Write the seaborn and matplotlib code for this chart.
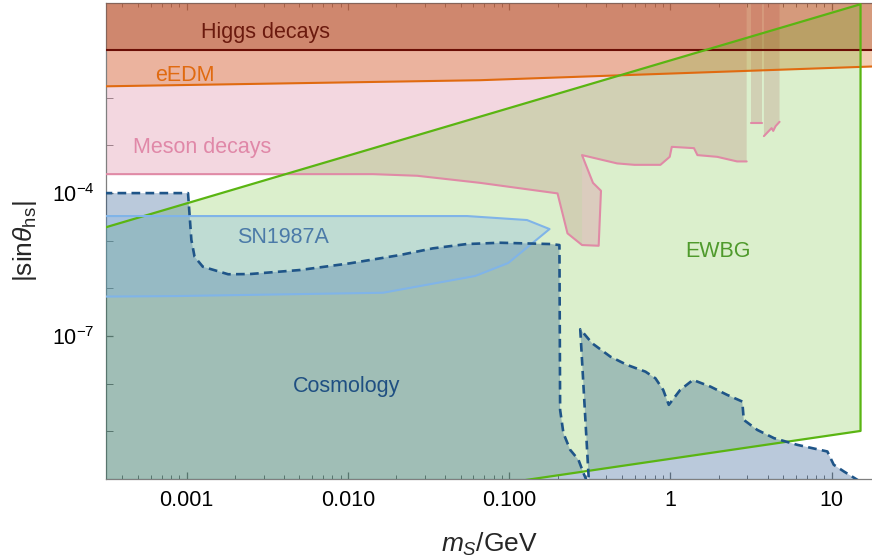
import numpy as np
import pandas as pd
import matplotlib
matplotlib.use("Agg")
import matplotlib.pyplot as plt
import matplotlib.ticker as mticker
import seaborn as sns

# ---------------- data (m_S in GeV, |sin theta_hS|) ----------------
higgs_m = [2.5e-4, 20.0]
higgs_s = [0.1, 0.1]

eedm_m = [2.5e-4, 0.066, 15.1, 20.0]
eedm_s = [1.72e-2, 2.34e-2, 4.45e-2, 4.6e-2]

meson_m = [2.5e-4, 1.43e-2, 2.69e-2, 6.61e-2, 0.1995, 0.230, 0.283, 0.359, 0.371,
           0.331, 0.283, 0.467, 0.597, 0.867, 0.990, 1.02, 1.40, 1.47, 1.95, 2.59, 2.97]
meson_s = [2.50e-4, 2.50e-4, 2.31e-4, 1.64e-4, 9.86e-5, 1.43e-5, 8.13e-6, 7.85e-6, 1.12e-4,
           1.64e-4, 6.27e-4, 4.20e-4, 3.92e-4, 3.92e-4, 5.77e-4, 9.35e-4, 8.77e-4, 6.27e-4,
           5.77e-4, 4.62e-4, 4.62e-4]
meson_strip1_m = [3.17, 3.71]
meson_strip1_s = [2.98e-3, 2.98e-3]
meson_strip2_m = [3.80, 4.08, 4.24, 4.34, 4.49, 4.75]
meson_strip2_s = [1.57e-3, 2.02e-3, 2.31e-3, 2.02e-3, 2.54e-3, 3.13e-3]

ewbg_m = [2.5e-4, 15.1, 15.1, 0.05, 2.5e-4]
ewbg_s = [1.52e-5, 0.92, 1.02e-9, 6.0e-11, 6.0e-11]

sn_m = [2.5e-4, 5.48e-2, 0.129, 0.178, 0.0986, 0.0615, 0.0165, 8.6e-4, 2.5e-4]
sn_s = [3.30e-5, 3.30e-5, 2.72e-5, 1.76e-5, 3.40e-6, 1.82e-6, 8.1e-7, 6.9e-7, 6.7e-7]

cosmo_m = [2.5e-4, 1.02e-3, 1.07e-3, 1.12e-3, 1.26e-3, 1.81e-3, 2.46e-3, 5.04e-3, 1.03e-2,
           2.10e-2, 3.37e-2, 5.46e-2, 8.79e-2, 0.180, 0.205, 0.207, 0.217, 0.239, 0.269,
           0.289, 0.303, 0.312, 0.276, 0.327, 0.424, 0.538, 0.700, 0.807, 0.902, 0.977,
           1.15, 1.38, 1.77, 2.25, 2.79, 2.85, 3.46, 4.39, 6.12, 9.40, 10.3, 11.9, 14.5]
cosmo_s = [1.0e-4, 1.0e-4, 1.04e-5, 4.62e-6, 2.85e-6, 1.98e-6, 2.00e-6, 2.43e-6, 3.36e-6,
           5.01e-6, 6.93e-6, 8.53e-6, 9.08e-6, 8.53e-6, 8.13e-6, 2.82e-9, 9.16e-10, 4.09e-10,
           2.53e-10, 1.33e-10, 9.1e-11, 9.1e-11, 1.39e-7, 7.06e-8, 3.70e-8, 2.48e-8, 1.79e-8,
           1.30e-8, 7.41e-9, 3.60e-9, 7.41e-9, 1.20e-8, 8.69e-9, 5.82e-9, 4.22e-9, 1.74e-9,
           1.07e-9, 7.19e-10, 5.21e-10, 3.78e-10, 1.99e-10, 1.44e-10, 9.5e-11]

xtick_vals = [1e-3, 1e-2, 1e-1, 1, 10]
xtick_labels = ["0.001", "0.010", "0.100", "1", "10"]
ytick_vals = [1e-4, 1e-7]
ytick_labels = [r"$10^{-4}$", r"$10^{-7}$"]

# ---------------- style ----------------
sns.set_theme(style="ticks")
plt.rcParams["font.family"] = ["Liberation Sans", "DejaVu Sans"]
plt.rcParams["mathtext.fontset"] = "custom"
plt.rcParams["mathtext.rm"] = "Liberation Sans"
plt.rcParams["mathtext.it"] = "Liberation Sans:italic"
plt.rcParams["mathtext.bf"] = "Liberation Sans:bold"

W, H = 872, 558
fig = plt.figure(figsize=(W / 100, H / 100), dpi=100)
ax = fig.add_axes([106 / W, (H - 479) / H, (W - 106) / W, 476.5 / H])
ax.set_xscale("log")
ax.set_yscale("log")
XMIN, XMAX = 10 ** -3.5, 10 ** 1.25
YMIN, YMAX = 1e-10, 1.0
TOP = 1.0

def poly(ms, ss, **kw):
    ax.fill(ms, ss, lw=0, **kw)

def line(ms, ss, color, z, lw=1.5, **kw):
    sns.lineplot(x=np.asarray(ms, float), y=np.asarray(ss, float), sort=False,
                 estimator=None, color=color, lw=lw, ax=ax, zorder=z, **kw)

# meson decays (filled up to the top)
idx_main = list(range(0, 7)) + list(range(10, len(meson_m)))
mm = [meson_m[i] for i in idx_main] + [meson_m[-1], meson_m[0]]
ms_ = [meson_s[i] for i in idx_main] + [TOP, TOP]
poly(mm, ms_, color="#dc87a3", alpha=0.33, zorder=1)
for sm, ss in [(meson_strip1_m, meson_strip1_s), (meson_strip2_m, meson_strip2_s)]:
    poly(list(sm) + [sm[-1], sm[0]], list(ss) + [TOP, TOP], color="#dc87a3", alpha=0.33, zorder=1)
col_m = meson_m[6:11]
col_s = meson_s[6:11]

# eEDM
poly(list(eedm_m) + [eedm_m[-1], eedm_m[0]], list(eedm_s) + [TOP, TOP],
     color="#dc6914", alpha=0.32, zorder=2)
# Higgs decays
poly(list(higgs_m) + [higgs_m[-1], higgs_m[0]], list(higgs_s) + [TOP, TOP],
     color="#962d0a", alpha=0.32, zorder=3)
# EWBG
poly(ewbg_m, ewbg_s, color="#5cb81a", alpha=0.22, zorder=4)
# meson column drawn above EWBG
poly(col_m, col_s, color="#dc87a3", alpha=0.33, zorder=4.5)
# Cosmology
poly(list(cosmo_m) + [20.0, 2.5e-4], list(cosmo_s) + [1e-11, 1e-11],
     color="#013a7b", alpha=0.27, zorder=5)
# SN1987A
poly(sn_m, sn_s, color="#7fb2e5", alpha=0.30, zorder=6)

# outlines
line(meson_m, meson_s, "#e08aa6", 7)
line(meson_strip1_m, meson_strip1_s, "#e08aa6", 7)
line(meson_strip2_m, meson_strip2_s, "#e08aa6", 7)
line(eedm_m, eedm_s, "#e06a10", 7)
line(higgs_m, higgs_s, "#6b0e05", 7)
line(ewbg_m, ewbg_s, "#5ab512", 8, lw=1.6)
line(sn_m, sn_s, "#80b4e8", 8)
line(cosmo_m, cosmo_s, "#1f5588", 9, lw=1.9, linestyle=(0, (3.3, 2.0)))

# labels on regions
fs = 15.5
ax.text(3.10e-3, 0.184, "Higgs decays", color="#6b1a0e", fontsize=fs, ha="center", va="baseline", zorder=12)
ax.text(9.72e-4, 0.0223, "eEDM", color="#e06a10", fontsize=fs, ha="center", va="baseline", zorder=12)
ax.text(1.24e-3, 6.79e-4, "Meson decays", color="#e088a8", fontsize=fs, ha="center", va="baseline", zorder=12)
ax.text(3.94e-3, 9.08e-6, "SN1987A", color="#4b7aa8", fontsize=fs, ha="center", va="baseline", zorder=12)
ax.text(1.97, 4.62e-6, "EWBG", color="#4f9a2c", fontsize=fs, ha="center", va="baseline", zorder=12)
ax.text(9.86e-3, 6.82e-9, "Cosmology", color="#1f4f82", fontsize=fs, ha="center", va="baseline", zorder=12)

# axes
ax.set_xlim(XMIN, XMAX)
ax.set_ylim(YMIN, YMAX)
ax.xaxis.set_major_locator(mticker.FixedLocator(xtick_vals))
ax.xaxis.set_major_formatter(mticker.FixedFormatter(xtick_labels))
ax.xaxis.set_minor_locator(mticker.LogLocator(base=10, subs=np.arange(2, 10), numticks=50))
ax.xaxis.set_minor_formatter(mticker.NullFormatter())
ax.yaxis.set_major_locator(mticker.FixedLocator(ytick_vals))
ax.yaxis.set_major_formatter(mticker.FixedFormatter(ytick_labels))
ax.yaxis.set_minor_locator(mticker.FixedLocator([10.0 ** k for k in range(-10, 1)]))
ax.yaxis.set_minor_formatter(mticker.NullFormatter())

grey = "#7f7f7f"
ax.tick_params(axis="x", which="both", direction="in", top=True, bottom=True,
               color=grey, labelsize=15.5, pad=8, labelcolor="black")
ax.tick_params(axis="x", which="major", length=5, width=0.9)
ax.tick_params(axis="x", which="minor", length=3, width=0.7)
ax.tick_params(axis="y", which="both", direction="in", left=True, right=False,
               color=grey, labelsize=15.5, pad=8, labelcolor="black")
ax.tick_params(axis="y", which="major", length=5, width=0.9)
ax.tick_params(axis="y", which="minor", length=5, width=0.7)
for side in ["left", "bottom", "top"]:
    ax.spines[side].set_color(grey)
    ax.spines[side].set_linewidth(0.9)
ax.spines["right"].set_visible(False)

ax.set_xlabel(r"$m_S$/GeV", fontsize=19)
ax.set_ylabel(r"$|\mathrm{sin}\theta_{\mathrm{hs}}|$", fontsize=19)
ax.xaxis.set_label_coords(0.5, -0.108)
ax.yaxis.set_label_coords(-0.088, 0.5)

fig.savefig("out.png", dpi=100)
